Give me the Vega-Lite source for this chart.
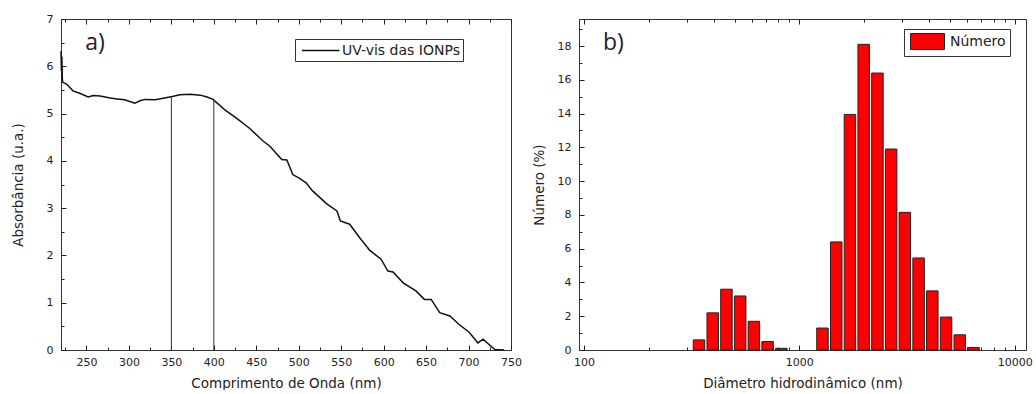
{
  "$schema": "https://vega.github.io/schema/vega-lite/v6.json",
  "padding": {"left": 10, "top": 12, "right": 0, "bottom": 0},
  "autosize": {"type": "pad"},
  "spacing": 9,
  "background": "white",
  "resolve": {"scale": {"color": "independent"}, "legend": {"color": "independent"}},
  "config": {
    "view": {"stroke": "#333", "strokeWidth": 1},
    "axis": {
      "grid": false,
      "labelFont": "DejaVu Sans",
      "labelFontSize": 11,
      "labelColor": "#222",
      "titleFont": "DejaVu Sans",
      "titleFontSize": 13.5,
      "titleFontWeight": "normal",
      "titleColor": "#222",
      "domainColor": "#333",
      "tickColor": "#222",
      "tickWidth": 1,
      "labelFlush": false,
      "labelOverlap": false
    }
  },
  "hconcat": [
    {
      "width": 450,
      "height": 331,
      "data": {"values": [
        {"nm": 220, "abs": 6.32}, {"nm": 220.5, "abs": 5.9}, {"nm": 221, "abs": 6.2}, {"nm": 221.5, "abs": 5.75},
        {"nm": 222, "abs": 5.66}, {"nm": 227, "abs": 5.62}, {"nm": 234, "abs": 5.48}, {"nm": 242, "abs": 5.43},
        {"nm": 252, "abs": 5.35}, {"nm": 258, "abs": 5.38}, {"nm": 266, "abs": 5.37}, {"nm": 278, "abs": 5.33},
        {"nm": 286, "abs": 5.31}, {"nm": 295, "abs": 5.29}, {"nm": 307, "abs": 5.22}, {"nm": 313, "abs": 5.27},
        {"nm": 319, "abs": 5.3}, {"nm": 331, "abs": 5.29}, {"nm": 342, "abs": 5.33}, {"nm": 351, "abs": 5.36},
        {"nm": 360, "abs": 5.4}, {"nm": 372, "abs": 5.41}, {"nm": 384, "abs": 5.39}, {"nm": 392, "abs": 5.35},
        {"nm": 399, "abs": 5.3}, {"nm": 413, "abs": 5.08}, {"nm": 427, "abs": 4.9}, {"nm": 442, "abs": 4.69},
        {"nm": 458, "abs": 4.42}, {"nm": 466, "abs": 4.31}, {"nm": 480, "abs": 4.03}, {"nm": 486, "abs": 4.02},
        {"nm": 493, "abs": 3.71}, {"nm": 501, "abs": 3.63}, {"nm": 509, "abs": 3.53}, {"nm": 516, "abs": 3.37},
        {"nm": 533, "abs": 3.09}, {"nm": 545, "abs": 2.94}, {"nm": 549, "abs": 2.73}, {"nm": 560, "abs": 2.66},
        {"nm": 572, "abs": 2.37}, {"nm": 584, "abs": 2.1}, {"nm": 597, "abs": 1.92}, {"nm": 605, "abs": 1.67},
        {"nm": 611, "abs": 1.65}, {"nm": 623, "abs": 1.42}, {"nm": 638, "abs": 1.25}, {"nm": 648, "abs": 1.07},
        {"nm": 656, "abs": 1.07}, {"nm": 666, "abs": 0.79}, {"nm": 678, "abs": 0.72}, {"nm": 689, "abs": 0.54},
        {"nm": 701, "abs": 0.37}, {"nm": 711, "abs": 0.15}, {"nm": 717, "abs": 0.23}, {"nm": 731, "abs": 0.01},
        {"nm": 742, "abs": 0}
      ]},
      "resolve": {"axis": {"x": "independent", "y": "independent"}},
      "layer": [
        {
          "mark": {"type": "line", "strokeWidth": 1.5, "interpolate": "linear"},
          "encoding": {
            "x": {"field": "nm", "type": "quantitative", "scale": {"domain": [220, 750], "nice": false, "zero": false},
              "axis": {"orient": "bottom", "values": [250, 300, 350, 400, 450, 500, 550, 600, 650, 700, 750], "ticks": false, "labelPadding": 6, "title": "Comprimento de Onda (nm)", "titlePadding": 9}},
            "y": {"field": "abs", "type": "quantitative", "scale": {"domain": [0, 7], "nice": false},
              "axis": {"orient": "left", "values": [0, 1, 2, 3, 4, 5, 6, 7], "ticks": false, "labelPadding": 8, "title": "Absorbância (u.a.)", "titlePadding": 21}},
            "color": {"datum": "UV-vis das IONPs", "scale": {"range": ["#111111"]},
              "legend": {"orient": "none", "legendX": 234, "legendY": 20, "title": null, "strokeColor": "#333", "fillColor": "white", "padding": 3,
                "symbolType": "M-0.6,0L4.4,0", "symbolSize": 225, "symbolStrokeWidth": 1.5, "symbolStrokeColor": "#111",
                "labelFont": "DejaVu Sans", "labelFontSize": 14, "labelColor": "#222", "labelOffset": 27}}
          }
        },
        {
          "data": {"values": [{"nm": 350, "abs": 5.36}, {"nm": 400, "abs": 5.3}]},
          "mark": {"type": "rule", "color": "#333", "strokeWidth": 1},
          "encoding": {
            "x": {"field": "nm", "type": "quantitative", "axis": null},
            "y": {"field": "abs", "type": "quantitative", "axis": null},
            "y2": {"datum": 0}
          }
        },
        {
          "mark": {"type": "point", "opacity": 0},
          "encoding": {
            "x": {"field": "nm", "type": "quantitative", "axis": {"orient": "bottom", "values": [250, 300, 350, 400, 450, 500, 550, 600, 650, 700, 750], "labels": false, "domain": false, "tickSize": -5, "title": null}},
            "y": {"field": "abs", "type": "quantitative", "axis": {"orient": "left", "values": [0, 1, 2, 3, 4, 5, 6, 7], "labels": false, "domain": false, "tickSize": -5, "title": null}}
          }
        },
        {
          "mark": {"type": "point", "opacity": 0},
          "encoding": {
            "x": {"field": "nm", "type": "quantitative", "axis": {"orient": "bottom", "values": [225, 275, 325, 375, 425, 475, 525, 575, 625, 675, 725], "labels": false, "domain": false, "tickSize": -3, "title": null}},
            "y": {"field": "abs", "type": "quantitative", "axis": {"orient": "left", "values": [0.5, 1.5, 2.5, 3.5, 4.5, 5.5, 6.5], "labels": false, "domain": false, "tickSize": -3, "title": null}}
          }
        },
        {
          "mark": {"type": "point", "opacity": 0},
          "encoding": {
            "x": {"field": "nm", "type": "quantitative", "axis": {"orient": "top", "values": [250, 300, 350, 400, 450, 500, 550, 600, 650, 700, 750], "labels": false, "domain": false, "tickSize": -5, "title": null}},
            "y": {"field": "abs", "type": "quantitative", "axis": null}
          }
        },
        {
          "mark": {"type": "point", "opacity": 0},
          "encoding": {
            "x": {"field": "nm", "type": "quantitative", "axis": {"orient": "top", "values": [225, 275, 325, 375, 425, 475, 525, 575, 625, 675, 725], "labels": false, "domain": false, "tickSize": -3, "title": null}},
            "y": {"field": "abs", "type": "quantitative", "axis": null}
          }
        },
        {
          "data": {"values": [{"label": "a)"}]},
          "mark": {"type": "text", "font": "Open Sans", "fontSize": 23, "color": "#222", "align": "center", "baseline": "middle"},
          "encoding": {
            "x": {"datum": 260, "type": "quantitative", "axis": null},
            "y": {"datum": 6.5, "type": "quantitative", "axis": null},
            "text": {"field": "label"}
          }
        }
      ]
    },
    {
      "width": 447,
      "height": 331,
      "data": {"values": [
        {"d": 342, "pct": 0.6}, {"d": 396.1, "pct": 2.2}, {"d": 458.7, "pct": 3.6}, {"d": 531.2, "pct": 3.2},
        {"d": 615.1, "pct": 1.7}, {"d": 712.4, "pct": 0.5}, {"d": 825, "pct": 0.1}, {"d": 1281, "pct": 1.3},
        {"d": 1484, "pct": 6.4}, {"d": 1718, "pct": 13.95}, {"d": 1990, "pct": 18.1}, {"d": 2305, "pct": 16.4},
        {"d": 2669, "pct": 11.9}, {"d": 3091, "pct": 8.15}, {"d": 3580, "pct": 5.45}, {"d": 4145, "pct": 3.5},
        {"d": 4801, "pct": 1.95}, {"d": 5560, "pct": 0.9}, {"d": 6439, "pct": 0.15}
      ]},
      "resolve": {"axis": {"x": "independent", "y": "independent"}},
      "layer": [
        {
          "mark": {"type": "bar", "orient": "vertical", "size": 11.5, "stroke": "#222", "strokeWidth": 1},
          "encoding": {
            "x": {"field": "d", "type": "quantitative", "scale": {"type": "log", "domain": [100, 10700], "nice": false},
              "axis": {"orient": "bottom", "values": [100, 1000, 10000], "format": "d", "ticks": false, "labelPadding": 6, "title": "Diâmetro hidrodinâmico (nm)", "titlePadding": 9}},
            "y": {"field": "pct", "type": "quantitative", "scale": {"domain": [0, 19.6], "nice": false},
              "axis": {"orient": "left", "values": [0, 2, 4, 6, 8, 10, 12, 14, 16, 18], "ticks": false, "labelPadding": 8, "title": "Número (%)", "titlePadding": 11}},
            "color": {"datum": "Número", "scale": {"range": ["#ff0000"]},
              "legend": {"orient": "none", "legendX": 325, "legendY": 10, "title": null, "strokeColor": "#333", "fillColor": "white", "padding": 4,
                "symbolType": "M-0.75,-1L3.5,-1L3.5,1L-0.75,1Z", "symbolSize": 256, "symbolStrokeColor": "#222", "symbolStrokeWidth": 1, "symbolFillColor": "#ff0000",
                "labelFont": "DejaVu Sans", "labelFontSize": 14, "labelColor": "#222", "labelOffset": 25}}
          }
        },
        {
          "mark": {"type": "point", "opacity": 0},
          "encoding": {
            "x": {"field": "d", "type": "quantitative", "axis": {"orient": "bottom", "values": [100, 1000, 10000], "labels": false, "domain": false, "tickSize": -5, "title": null}},
            "y": {"field": "pct", "type": "quantitative", "axis": {"orient": "left", "values": [0, 2, 4, 6, 8, 10, 12, 14, 16, 18], "labels": false, "domain": false, "tickSize": -5, "title": null}}
          }
        },
        {
          "mark": {"type": "point", "opacity": 0},
          "encoding": {
            "x": {"field": "d", "type": "quantitative", "axis": {"orient": "bottom", "values": [200, 300, 400, 500, 600, 700, 800, 900, 2000, 3000, 4000, 5000, 6000, 7000, 8000, 9000], "labels": false, "domain": false, "tickSize": -3, "title": null}},
            "y": {"field": "pct", "type": "quantitative", "axis": {"orient": "left", "values": [1, 3, 5, 7, 9, 11, 13, 15, 17, 19], "labels": false, "domain": false, "tickSize": -3, "title": null}}
          }
        },
        {
          "mark": {"type": "point", "opacity": 0},
          "encoding": {
            "x": {"field": "d", "type": "quantitative", "axis": {"orient": "top", "values": [100, 1000, 10000], "labels": false, "domain": false, "tickSize": -5, "title": null}},
            "y": {"field": "pct", "type": "quantitative", "axis": null}
          }
        },
        {
          "mark": {"type": "point", "opacity": 0},
          "encoding": {
            "x": {"field": "d", "type": "quantitative", "axis": {"orient": "top", "values": [200, 300, 400, 500, 600, 700, 800, 900, 2000, 3000, 4000, 5000, 6000, 7000, 8000, 9000], "labels": false, "domain": false, "tickSize": -3, "title": null}},
            "y": {"field": "pct", "type": "quantitative", "axis": null}
          }
        },
        {
          "data": {"values": [{"label": "b)"}]},
          "mark": {"type": "text", "font": "Open Sans", "fontSize": 23, "color": "#222", "align": "center", "baseline": "middle"},
          "encoding": {
            "x": {"datum": 137, "type": "quantitative", "axis": null},
            "y": {"datum": 18.2, "type": "quantitative", "axis": null},
            "text": {"field": "label"}
          }
        }
      ]
    }
  ]
}
